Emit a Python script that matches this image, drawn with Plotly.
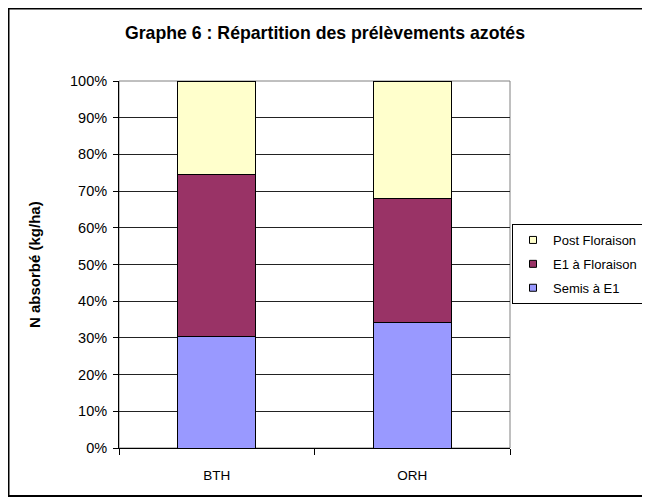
import plotly.graph_objects as go

categories = ["BTH", "ORH"]
semis_e1 = [30.3, 34.1]
e1_floraison = [44.2, 33.8]
post_floraison = [25.5, 32.1]
series_names = ["Semis à E1", "E1 à Floraison", "Post Floraison"]
series_colors = ["#9999FF", "#993366", "#FFFFCC"]
y_ticks = [0, 10, 20, 30, 40, 50, 60, 70, 80, 90, 100]
y_tick_labels = [f"{v}%" for v in y_ticks]

# page has an 8px body margin, so the figure is 8px smaller than the window
W, H = 642, 490
L, R, T, B = 111, 140, 73, 50

pw = W - L - R
ph = H - T - B
def px_x(px):
    return (px - L) / pw
def px_y(py):
    return (H - B - py) / ph

fig = go.Figure()
for name, vals, col in zip(series_names, [semis_e1, e1_floraison, post_floraison], series_colors):
    fig.add_trace(go.Bar(
        x=categories, y=vals, name=name,
        marker=dict(color=col, line=dict(color="#000000", width=1)),
        width=0.4, showlegend=False,
    ))
# legend entries with small square swatches (top series listed first)
for name, col in reversed(list(zip(series_names, series_colors))):
    fig.add_trace(go.Scatter(
        x=[None], y=[None], name=name, mode="markers", legendgroup=name,
        marker=dict(symbol="square", size=7, color=col, line=dict(color="#000000", width=1)),
    ))

FONT = "Arial, Liberation Sans, sans-serif"
fig.update_layout(
    width=W, height=H,
    margin=dict(l=L, r=R, t=T, b=B, autoexpand=False),
    barmode="stack",
    paper_bgcolor="white",
    plot_bgcolor="white",
    font=dict(family=FONT, size=14, color="#000000"),
    showlegend=True,
    title=dict(text="<b>Graphe 6 : Répartition des prélèvements azotés</b>",
               x=317 / W, xref="container", xanchor="center",
               y=1 - 25 / H, yref="container", yanchor="middle",
               font=dict(size=17.7, color="#000000")),
    legend=dict(
        traceorder="grouped",
        x=px_x(504), xanchor="left", y=px_y(216), yanchor="top",
        bordercolor="#000000", borderwidth=1, bgcolor="white",
        font=dict(size=13),
        tracegroupgap=4,
        itemwidth=30,
    ),
    xaxis=dict(
        showline=True, linecolor="#000000", linewidth=1,
        ticks="outside", ticklen=6, tickcolor="#000000",
        tickson="boundaries",
        showgrid=False,
        tickfont=dict(size=13.5),
        ticklabelstandoff=15,
    ),
    yaxis=dict(
        range=[0, 100],
        tickvals=y_ticks, ticktext=y_tick_labels,
        showline=True, linecolor="#000000", linewidth=1,
        ticks="outside", ticklen=5, tickcolor="#000000",
        showgrid=True, gridcolor="#222222", gridwidth=1,
        zeroline=False,
        tickfont=dict(size=14.5),
        ticklabelstandoff=3,
    ),
    annotations=[
        dict(text="<b>N absorbé (kg/ha)</b>", textangle=-90,
             xref="paper", yref="paper", x=px_x(26), y=px_y(257),
             xanchor="center", yanchor="middle", showarrow=False,
             font=dict(size=15, family=FONT, color="#000000")),
    ],
    shapes=[
        dict(type="rect", xref="paper", yref="paper", x0=0, x1=1, y0=0, y1=1,
             line=dict(color="#808080", width=1), layer="below"),
        dict(type="rect", xref="paper", yref="paper",
             x0=px_x(0.5), x1=px_x(635), y0=px_y(488), y1=px_y(0.5),
             line=dict(color="#000000", width=2), layer="below"),
    ],
)

fig.write_html("out.html")
